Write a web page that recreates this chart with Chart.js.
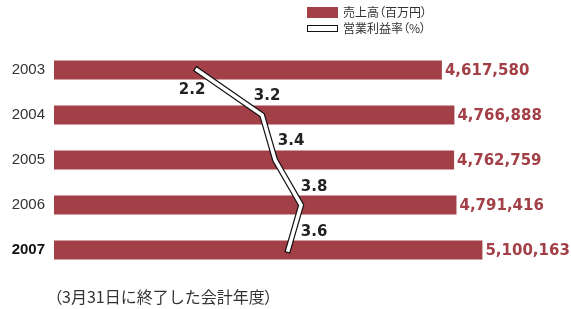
<!DOCTYPE html>
<html>
<head>
<meta charset="utf-8">
<script src="https://cdn.jsdelivr.net/npm/chart.js@4/dist/chart.umd.min.js"></script>
<style>
  body { margin: 0; background: #fff; }
  #wrap { position: relative; width: 571px; height: 309px; }
  .jp { font-family: "Noto Sans CJK JP", sans-serif; color: #333; position: absolute; white-space: nowrap; }
  .palt { font-feature-settings: "palt"; }
  .sw { position: absolute; box-sizing: border-box; }
</style>
</head>
<body>
<div id="wrap">
  <canvas id="chart"></canvas>
  <div class="sw" style="left:307px;top:7px;width:31px;height:11px;background:#a33f46;"></div>
  <div class="jp palt" style="left:343px;top:4px;font-size:12px;line-height:16px;">売上高（百万円）</div>
  <div class="sw" style="left:307px;top:25px;width:31px;height:7px;background:#fff;border:1.3px solid #111;"></div>
  <div class="jp palt" style="left:343px;top:20px;font-size:12px;line-height:16px;">営業利益率（%）</div>
  <div class="jp" style="left:54px;top:286px;font-size:16px;line-height:21px;"><span class="palt">（</span>3月31日に終了した会計年度<span class="palt">）</span></div>
</div>
<script>
const years = ['2003', '2004', '2005', '2006', '2007'];
const sales = [4617580, 4766888, 4762759, 4791416, 5100163];
const margin = [2.2, 3.2, 3.4, 3.8, 3.6];

const barColor = '#a33f46';
// where each margin label sits relative to its point
const marginLabelOffset = [[-5, 20], [5, -19], [16, -19], [13, -18], [26, -18]];

const labelPlugin = {
  id: 'labels',
  afterDatasetsDraw(chart) {
    const c = chart.ctx;
    c.save();
    c.textBaseline = 'middle';

    // sales values at the bar ends
    c.font = 'bold 15px "DejaVu Sans"';
    c.fillStyle = barColor;
    c.textAlign = 'left';
    chart.getDatasetMeta(0).data.forEach((el, i) => {
      c.fillText(sales[i].toLocaleString('en-US'), el.x + 3, el.y + 1);
    });

    // margin values next to the line
    c.fillStyle = '#222';
    c.textAlign = 'center';
    chart.getDatasetMeta(2).data.forEach((pt, i) => {
      const o = marginLabelOffset[i];
      c.fillText(margin[i].toFixed(1), pt.x + o[0], pt.y + o[1]);
    });
    c.restore();
  }
};

const ctx = document.getElementById('chart').getContext('2d');
new Chart(ctx, {
  type: 'bar',
  data: {
    labels: years,
    datasets: [
      {
        label: '売上高（百万円）',
        data: sales,
        backgroundColor: barColor,
        xAxisID: 'x',
        barPercentage: 0.84,
        categoryPercentage: 0.5,
        order: 3
      },
      {
        type: 'line',
        label: 'outline',
        data: margin,
        xAxisID: 'x2',
        borderColor: '#111',
        borderWidth: 6,
        borderCapStyle: 'square',
        borderJoinStyle: 'miter',
        pointRadius: 0,
        tension: 0,
        order: 2
      },
      {
        type: 'line',
        label: '営業利益率（%）',
        data: margin,
        xAxisID: 'x2',
        borderColor: '#fff',
        borderWidth: 3.6,
        borderCapStyle: 'square',
        borderJoinStyle: 'miter',
        pointRadius: 0,
        tension: 0,
        order: 1
      }
    ]
  },
  options: {
    indexAxis: 'y',
    responsive: true,
    maintainAspectRatio: false,
    animation: false,
    layout: { padding: { top: 47.5, bottom: 36.5, right: 13, left: 0 } },
    scales: {
      x: { display: false, min: 0, max: 6000000 },
      x2: { display: false, min: 0, max: 7.75 },
      y: {
        grid: { display: false, drawTicks: false, tickLength: 0 },
        border: { display: false },
        afterFit(scale) { scale.width = 54; },
        ticks: {
          padding: 9,
          color: (c) => c.index === 4 ? '#111' : '#333',
          font: (c) => ({
            family: '"Liberation Sans", Arial, sans-serif',
            size: 15,
            weight: c.index === 4 ? 'bold' : 'normal'
          })
        }
      }
    },
    plugins: {
      legend: { display: false },
      tooltip: { enabled: false }
    }
  },
  plugins: [labelPlugin]
});
</script>
</body>
</html>
